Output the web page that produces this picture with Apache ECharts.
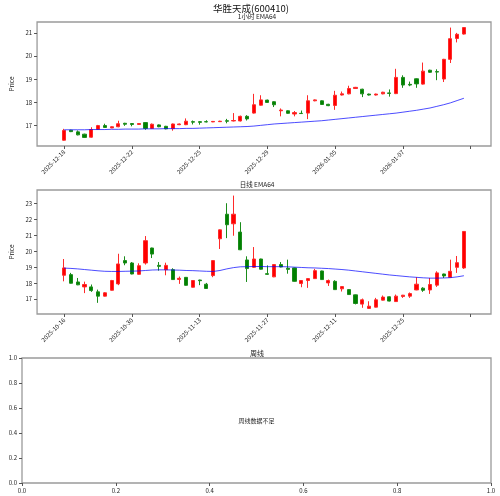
<!DOCTYPE html>
<html>
<head>
<meta charset="utf-8">
<title>华胜天成(600410)</title>
<script src="https://cdn.jsdelivr.net/npm/echarts@6/dist/echarts.min.js"></script>
<style>
  html, body { margin: 0; padding: 0; background: #fff; }
  #chart { width: 500px; height: 496px; }
</style>
</head>
<body>
<div id="chart"></div>
<script>
// 1小时 K线
const hourOpen  = [16.37,16.80,16.73,16.63,16.50,16.84,17.00,16.90,16.95,17.10,
                   17.09,17.05,17.13,16.88,17.03,16.97,16.87,17.04,17.04,17.17,
                   17.17,17.17,17.16,17.17,17.21,17.20,17.20,17.40,17.54,17.88,
                   18.10,18.03,17.64,17.64,17.50,17.53,17.54,18.07,18.07,17.92,
                   17.87,18.32,18.37,18.60,18.57,18.36,18.32,18.37,18.41,18.38,
                   19.08,18.78,19.02,18.79,19.39,19.33,19.01,19.86,20.76,20.95];
const hourClose = [16.79,16.74,16.60,16.49,16.83,17.00,16.92,16.95,17.08,17.06,
                   17.05,17.09,16.88,17.06,16.95,16.86,17.07,17.07,17.19,17.15,
                   17.14,17.16,17.18,17.19,17.19,17.22,17.40,17.29,17.90,18.11,
                   18.00,17.90,17.67,17.53,17.56,17.52,18.07,18.11,17.91,17.86,
                   18.31,18.37,18.60,18.65,18.37,18.32,18.36,18.44,18.39,19.08,
                   18.75,18.75,18.80,19.35,19.30,19.31,19.86,20.75,20.94,21.23];
const hourLow   = [16.35,16.72,16.58,16.47,16.48,16.82,16.90,16.89,16.93,16.99,
                   16.97,17.03,16.82,16.86,16.93,16.84,16.78,17.02,17.02,17.05,
                   17.04,17.14,17.15,17.16,17.10,17.18,17.18,17.22,17.52,17.86,
                   17.98,17.80,17.40,17.51,17.40,17.50,17.28,18.05,17.89,17.84,
                   17.68,18.30,18.35,18.58,18.23,18.30,18.30,18.35,18.25,18.36,
                   18.63,18.70,18.63,18.77,19.28,18.96,18.88,19.70,20.59,20.93];
const hourHigh  = [16.86,16.82,16.79,16.65,16.93,17.03,17.08,16.97,17.21,17.12,
                   17.11,17.11,17.15,17.09,17.05,16.99,17.09,17.09,17.31,17.22,
                   17.19,17.23,17.20,17.21,17.29,17.54,17.43,17.45,18.37,18.31,
                   18.12,18.05,17.74,17.66,17.63,17.65,18.31,18.13,18.09,17.94,
                   18.50,18.47,18.72,18.67,18.59,18.38,18.38,18.46,18.56,19.45,
                   19.17,18.90,19.04,19.72,19.41,19.43,19.88,21.23,21.00,21.25];
const hourEma   = [16.82,16.82,16.82,16.82,16.83,16.83,16.83,16.84,16.84,16.85,
                   16.85,16.85,16.86,16.86,16.86,16.87,16.87,16.87,16.88,16.88,
                   16.89,16.90,16.91,16.92,16.93,16.94,16.95,16.96,16.98,17.01,
                   17.04,17.07,17.09,17.11,17.13,17.15,17.17,17.19,17.21,17.24,
                   17.27,17.30,17.33,17.36,17.39,17.42,17.45,17.48,17.51,17.54,
                   17.58,17.62,17.66,17.71,17.76,17.83,17.90,17.98,18.08,18.18];
const hourTicks = ['2025-12-18','2025-12-22','2025-12-25','2025-12-29','2026-01-05','2026-01-07',''];

// 日线
const dayOpen  = [18.50,18.54,18.08,17.77,17.77,17.46,17.19,17.56,17.96,19.42,
                  19.27,18.56,19.27,20.21,19.12,18.85,18.85,18.24,18.37,17.75,
                  18.20,17.94,18.48,20.79,22.33,21.73,21.21,19.46,19.00,19.52,
                  18.60,18.40,19.17,18.94,18.96,17.98,18.17,18.29,18.77,18.02,
                  18.12,17.65,17.60,17.27,16.69,16.42,16.50,16.94,17.15,16.85,
                  17.17,17.19,17.58,17.69,17.58,17.88,18.58,18.37,19.00,18.96];
const dayClose = [18.96,18.00,17.90,17.92,17.54,17.19,17.40,18.17,19.21,19.27,
                  18.58,19.10,20.67,19.83,19.06,19.12,18.23,18.31,17.87,18.17,
                  18.16,17.67,19.42,21.35,21.67,22.33,20.10,18.92,19.52,18.88,
                  18.56,19.17,19.02,18.87,18.12,18.17,18.29,18.79,18.23,18.17,
                  17.60,17.79,17.29,16.73,16.96,16.56,16.96,17.13,16.88,17.19,
                  17.25,17.35,17.94,17.56,17.92,18.65,18.46,18.75,19.29,21.25];
const dayLow   = [18.12,17.98,17.88,17.38,17.46,16.77,17.17,17.54,17.88,19.13,
                  18.56,18.54,19.17,19.58,18.79,18.50,18.21,17.96,17.85,17.73,
                  17.88,17.65,18.38,20.15,20.83,20.98,20.08,18.08,18.96,18.86,
                  18.52,18.38,19.00,18.60,18.10,17.75,17.71,18.27,18.21,17.83,
                  17.58,17.48,17.27,16.67,16.46,16.40,16.48,16.92,16.86,16.83,
                  17.08,17.08,17.56,17.46,17.33,17.77,18.33,18.35,18.65,18.90];
const dayHigh  = [19.52,18.65,18.33,18.10,17.92,17.60,17.44,18.21,19.85,19.69,
                  19.33,19.25,20.96,20.23,19.33,19.29,18.94,18.42,18.39,18.19,
                  18.22,18.02,19.44,21.37,23.02,23.50,21.83,19.69,20.27,19.54,
                  19.12,19.19,19.33,19.48,18.98,18.19,18.31,18.90,18.79,18.23,
                  18.19,17.81,17.62,17.29,17.04,16.87,17.08,17.23,17.17,17.29,
                  17.27,17.42,18.38,17.75,18.33,18.75,18.60,19.48,19.71,21.27];
const dayEma   = [18.95,18.93,18.90,18.86,18.82,18.78,18.75,18.74,18.74,18.75,
                  18.76,18.77,18.80,18.83,18.84,18.84,18.83,18.82,18.80,18.79,
                  18.77,18.75,18.74,18.80,18.90,18.98,19.03,19.04,19.05,19.05,
                  19.04,19.04,19.04,19.03,19.01,18.99,18.97,18.96,18.94,18.92,
                  18.89,18.86,18.82,18.77,18.72,18.67,18.62,18.57,18.52,18.48,
                  18.44,18.40,18.37,18.34,18.32,18.32,18.33,18.35,18.40,18.47];
const dayTicks = ['2025-10-16','2025-10-30','2025-11-13','2025-11-27','2025-12-11','2025-12-25',''];

const hourYTicks = [17, 18, 19, 20, 21];
const dayYTicks = [17, 18, 19, 20, 21, 22, 23];

// 横轴位置: -4 .. 63, 每 10 根一个刻度
const PAD = 4;
const cats = [];
for (let i = -PAD; i < 60 + PAD; i++) cats.push(String(i));
const isTick = (idx) => (idx - PAD) >= 0 && (idx - PAD) % 10 === 0;

function kData(o, c, l, h) {
  return o.map((v, i) => [i + PAD, v, c[i], l[i], h[i]]);
}
function lineData(arr) {
  return arr.map((v, i) => [i + PAD, v]);
}

const FONT = '"Noto Sans CJK SC", "DejaVu Sans", sans-serif';
const TXT = '#222';

function catAxis(grid, ticks) {
  return {
    type: 'category',
    gridIndex: grid,
    data: cats,
    boundaryGap: false,
    axisLine: { show: false },
    axisTick: { interval: isTick, length: 3, lineStyle: { color: '#555' } },
    axisLabel: {
      interval: isTick,
      rotate: 45,
      fontSize: 6,
      color: TXT,
      fontFamily: FONT,
      margin: 5,
      formatter: (v, idx) => ticks[(idx - PAD) / 10] || ''
    },
    splitLine: { show: false }
  };
}

function priceAxis(grid, min, max, ticks) {
  return {
    type: 'value',
    gridIndex: grid,
    min: min,
    max: max,
    name: 'Price',
    nameLocation: 'middle',
    nameGap: 16,
    nameTextStyle: { fontSize: 6.5, color: TXT, fontFamily: FONT },
    axisLine: { show: false },
    axisTick: { show: true, customValues: ticks, length: 3, lineStyle: { color: '#555' } },
    axisLabel: { customValues: ticks, fontSize: 6, color: TXT, fontFamily: FONT, margin: 5 },
    splitLine: { show: false }
  };
}

function fracAxis(grid) {
  return {
    type: 'value',
    gridIndex: grid,
    min: 0,
    max: 1,
    interval: 0.2,
    axisLine: { show: false },
    axisTick: { show: true, length: 3, lineStyle: { color: '#555' } },
    axisLabel: {
      fontSize: 6, color: TXT, fontFamily: FONT, margin: 5,
      formatter: (v) => v.toFixed(1)
    },
    splitLine: { show: false }
  };
}

const kStyle = {
  color: '#ff0000',
  color0: '#008000',
  borderColor: '#ff2a2a',
  borderColor0: '#1a8c1a',
  borderWidth: 1
};

const gridBox = { show: true, borderColor: '#9a9a9a', borderWidth: 1.3, left: 22, right: 9 };

const chart = echarts.init(document.getElementById('chart'), null, { renderer: 'canvas' });
chart.setOption({
  animation: false,
  backgroundColor: '#fff',
  textStyle: { fontFamily: FONT },
  graphic: [
    { type: 'text', x: 251, y: 8, style: { text: '华胜天成(600410)', fontSize: 9.5, fill: '#111', fontFamily: FONT, textAlign: 'center', textVerticalAlign: 'middle' } },
    { type: 'text', x: 257, y: 16.5, style: { text: '1小时 EMA64', fontSize: 6.5, fill: TXT, fontFamily: FONT, textAlign: 'center', textVerticalAlign: 'middle' } },
    { type: 'text', x: 257, y: 185, style: { text: '日线 EMA64', fontSize: 6.5, fill: TXT, fontFamily: FONT, textAlign: 'center', textVerticalAlign: 'middle' } },
    { type: 'text', x: 257, y: 353, style: { text: '周线', fontSize: 7, fill: TXT, fontFamily: FONT, textAlign: 'center', textVerticalAlign: 'middle' } },
    { type: 'text', x: 256.5, y: 421, style: { text: '周线数据不足', fontSize: 6, fill: TXT, fontFamily: FONT, textAlign: 'center', textVerticalAlign: 'middle' } }
  ],
  grid: [
    Object.assign({ top: 22, height: 124 }, gridBox),
    Object.assign({ top: 190, height: 124 }, gridBox),
    Object.assign({ top: 358, height: 125 }, gridBox)
  ],
  xAxis: [
    catAxis(0, hourTicks),
    catAxis(1, dayTicks),
    fracAxis(2)
  ],
  yAxis: [
    priceAxis(0, 16.12, 21.47, hourYTicks),
    priceAxis(1, 16.07, 23.85, dayYTicks),
    fracAxis(2)
  ],
  series: [
    {
      name: '1小时',
      type: 'candlestick',
      xAxisIndex: 0, yAxisIndex: 0,
      barWidth: 3.6,
      encode: { x: 0, y: [1, 2, 3, 4] },
      data: kData(hourOpen, hourClose, hourLow, hourHigh),
      itemStyle: kStyle
    },
    {
      name: 'EMA64',
      type: 'line',
      xAxisIndex: 0, yAxisIndex: 0,
      showSymbol: false,
      data: lineData(hourEma),
      lineStyle: { color: 'rgba(0,0,255,0.7)', width: 1 },
      z: 3
    },
    {
      name: '日线',
      type: 'candlestick',
      xAxisIndex: 1, yAxisIndex: 1,
      barWidth: 3.6,
      encode: { x: 0, y: [1, 2, 3, 4] },
      data: kData(dayOpen, dayClose, dayLow, dayHigh),
      itemStyle: kStyle
    },
    {
      name: 'EMA64 日',
      type: 'line',
      xAxisIndex: 1, yAxisIndex: 1,
      showSymbol: false,
      data: lineData(dayEma),
      lineStyle: { color: 'rgba(0,0,255,0.7)', width: 1 },
      z: 3
    },
    {
      name: '周线',
      type: 'scatter',
      xAxisIndex: 2, yAxisIndex: 2,
      data: []
    }
  ]
});
</script>
</body>
</html>
